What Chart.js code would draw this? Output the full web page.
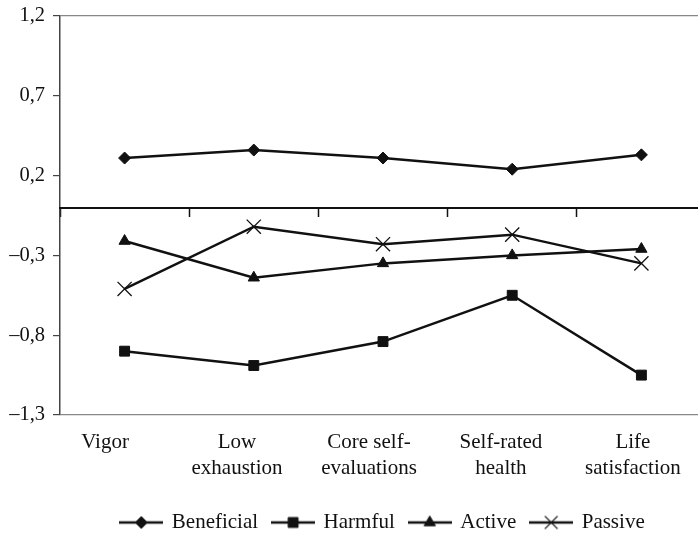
<!DOCTYPE html>
<html><head><meta charset="utf-8">
<script src="https://cdn.jsdelivr.net/npm/chart.js@4/dist/chart.umd.min.js"></script>
<style>html,body{margin:0;padding:0;background:#fff;overflow:hidden}#wrap{width:706px;height:536px;position:relative}</style>
</head><body><div id="wrap"><canvas id="c"></canvas></div>
<script>
const categories = [["Vigor"],["Low","exhaustion"],["Core self-","evaluations"],["Self-rated","health"],["Life","satisfaction"]];
const seriesNames = ["Beneficial","Harmful","Active","Passive"];
const beneficial = [0.31,0.36,0.31,0.24,0.33];
const harmful = [-0.90,-0.99,-0.84,-0.55,-1.05];
const active = [-0.21,-0.44,-0.35,-0.30,-0.26];
const passive = [-0.51,-0.12,-0.23,-0.17,-0.35];
const yTicks = [1.2,0.7,0.2,-0.3,-0.8,-1.3];

const INK = '#111';
const FAM = '"Liberation Serif", "Times New Roman", serif';
const styles = [
  {pointStyle:'rectRot', r:6, bw:1},
  {pointStyle:'rect', r:7, bw:1},
  {pointStyle:'triangle', r:6.5, bw:1},
  {pointStyle:'crossRot', r:10, bw:1.3}
];
function legendImage(s){
  const c = document.createElement('canvas');
  c.width = 44; c.height = 18;
  const g = c.getContext('2d');
  g.strokeStyle = INK; g.fillStyle = INK; g.lineWidth = 2.5;
  g.beginPath(); g.moveTo(0,9); g.lineTo(44,9); g.stroke();
  g.lineWidth = s.bw;
  Chart.helpers.drawPoint(g, {pointStyle:s.pointStyle, radius:s.pointStyle==='crossRot'?9:s.r, rotation:0, borderWidth:s.bw}, 22, 9);
  return c;
}
const dataArrays = [beneficial, harmful, active, passive];
const datasets = dataArrays.map((d,i)=>({
  label: seriesNames[i], data: d,
  borderColor: INK, backgroundColor: INK, borderWidth: 2.5,
  pointStyle: styles[i].pointStyle, pointRadius: styles[i].r,
  pointBackgroundColor: INK, pointBorderColor: INK, pointBorderWidth: styles[i].bw,
  tension: 0, fill: false
}));
const fmt = v => (v<0?'\u2013':'') + Math.abs(v).toFixed(1).replace('.',',');
const zeroPad = (s) => { s.paddingLeft = 0; s.paddingRight = 0; s.paddingTop = 0; s.paddingBottom = 0; };

new Chart(document.getElementById('c'), {
  type: 'line',
  data: {labels: categories, datasets},
  options: {
    responsive: true, maintainAspectRatio: false, animation: false,
    layout: {autoPadding: false, padding: {top: 16, right: 0, left: 0, bottom: -7}},
    plugins: {
      tooltip: {enabled:false},
      legend: {
        position: 'bottom', fullSize: false,
        labels: {
          usePointStyle: true, pointStyleWidth: 40, boxHeight: 16,
          font: {family: FAM, size: 21}, color: INK, padding: 15,
          generateLabels: (chart) => chart.data.datasets.map((ds,i)=>({
            text: ds.label, pointStyle: legendImage(styles[i]), fillStyle: INK,
            strokeStyle: INK, lineWidth: 0, hidden: false, datasetIndex: i, fontColor: INK
          }))
        }
      }
    },
    scales: {
      y: {
        min: -1.3, max: 1.2,
        afterBuildTicks: (s) => { s.ticks = yTicks.map(v=>({value:v})); },
        afterFit: (s) => { s.width = 60; zeroPad(s); },
        ticks: {font: {family: FAM, size: 20.5}, color: INK, padding: 8, callback: (v)=>fmt(v)},
        grid: {
          drawOnChartArea: true, tickLength: 7, tickColor: '#444', tickWidth: 1.2,
          color: (ctx) => (ctx.tick && (Math.abs(ctx.tick.value-1.2)<1e-6 || Math.abs(ctx.tick.value+1.3)<1e-6)) ? '#888' : 'rgba(0,0,0,0)',
          lineWidth: 1.2
        },
        border: {display: true, color: '#444', width: 1.5}
      },
      x: {
        type: 'category', position: {y: 0}, offset: true,
        ticks: {display: false},
        afterFit: (s) => { zeroPad(s); },
        grid: {display: true, drawOnChartArea: false, offset: true, tickLength: 8, tickColor: INK, tickWidth: 1.5, color: INK},
        border: {display: true, color: INK, width: 2}
      },
      x2: {
        type: 'linear', position: 'bottom', min: -0.3415, max: 4.554,
        afterBuildTicks: (s) => { s.ticks = categories.map((c,i)=>({value:i})); },
        grid: {display: false}, border: {display: false},
        ticks: {font: {family: FAM, size: 21, lineHeight: 1.25}, color: INK, padding: 6, maxRotation: 0, autoSkip: false,
                callback: (v) => categories[v]},
        afterFit: (s) => { s.height = 82; zeroPad(s); }
      }
    }
  }
});
</script>
</body></html>
